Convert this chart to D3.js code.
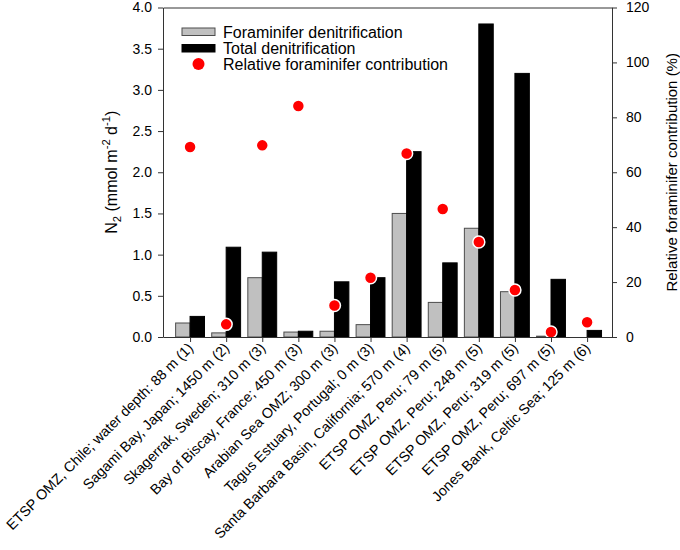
<!DOCTYPE html>
<html>
<head>
<meta charset="utf-8">
<script src="https://cdn.jsdelivr.net/npm/d3@7"></script>
<style>
  html, body { margin: 0; padding: 0; background: #fff; }
  svg { display: block; font-family: "Liberation Sans", Arial, sans-serif; }
</style>
</head>
<body>
<svg id="chart" width="680" height="550"></svg>
<script>
const categories = [
  "ETSP OMZ, Chile; water depth: 88 m (1)",
  "Sagami Bay, Japan; 1450 m (2)",
  "Skagerrak, Sweden; 310 m (3)",
  "Bay of Biscay, France; 450 m (3)",
  "Arabian Sea OMZ; 300 m (3)",
  "Tagus Estuary, Portugal; 0 m (3)",
  "Santa Barbara Basin, California; 570 m (4)",
  "ETSP OMZ, Peru; 79 m (5)",
  "ETSP OMZ, Peru; 248 m (5)",
  "ETSP OMZ, Peru; 319 m (5)",
  "ETSP OMZ, Peru; 697 m (5)",
  "Jones Bank, Celtic Sea; 125 m (6)"
];
const foraminiferDenitrification = [0.17, 0.05, 0.72, 0.06, 0.07, 0.15, 1.50, 0.42, 1.32, 0.55, 0.01, 0];
const totalDenitrification = [0.25, 1.09, 1.03, 0.07, 0.67, 0.72, 2.25, 0.90, 3.80, 3.20, 0.70, 0.08];
const relativeContribution = [69.2, 4.6, 69.8, 84.1, 11.5, 21.6, 66.8, 46.6, 34.6, 17.1, 1.8, 5.4];
const leftTicks = [0, 0.5, 1.0, 1.5, 2.0, 2.5, 3.0, 3.5, 4.0];
const rightTicks = [0, 20, 40, 60, 80, 100, 120];
const legendLabels = ["Foraminifer denitrification", "Total denitrification", "Relative foraminifer contribution"];

const svg = d3.select("#chart");
const L = 163, R = 612, T = 7.5, B = 337;
const FS_TICK = 14, FS_X = 14.3, FS_LEG = 16, FS_TITLE_L = 16, FS_TITLE_R = 15;

const x = d3.scaleLinear().domain([0.25, 12.69]).range([L, R]);
const yL = d3.scaleLinear().domain([0, 4]).range([B, T]);
const yR = d3.scaleLinear().domain([0, 120]).range([B, T]);
const bw = 0.4;

const data = categories.map((c, i) => ({
  pos: i + 1, name: c,
  foram: foraminiferDenitrification[i],
  total: totalDenitrification[i],
  rel: relativeContribution[i]
}));

// bars
svg.append("g").selectAll("rect").data(data.filter(d => d.foram > 0)).join("rect")
  .attr("x", d => x(d.pos - bw))
  .attr("y", d => yL(d.foram))
  .attr("width", d => x(d.pos) - x(d.pos - bw))
  .attr("height", d => yL(0) - yL(d.foram))
  .attr("fill", "#c0c0c0").attr("stroke", "#4d4d4d").attr("stroke-width", 1);

svg.append("g").selectAll("rect").data(data.filter(d => d.total > 0)).join("rect")
  .attr("x", d => x(d.pos))
  .attr("y", d => yL(d.total))
  .attr("width", d => x(d.pos + bw) - x(d.pos))
  .attr("height", d => yL(0) - yL(d.total))
  .attr("fill", "#000").attr("stroke", "#000").attr("stroke-width", 1);

// points
svg.append("g").selectAll("circle").data(data).join("circle")
  .attr("cx", d => x(d.pos))
  .attr("cy", d => yR(d.rel))
  .attr("r", 6)
  .attr("fill", "#ff0000").attr("stroke", "#fff").attr("stroke-width", 1.5);

// axes
function styleAxis(g) {
  g.selectAll("path, line").attr("stroke", "#333").attr("stroke-width", 1);
  g.selectAll("text").attr("font-size", FS_TICK).attr("fill", "#000")
    .attr("font-family", "'Liberation Sans', Arial, sans-serif");
}
svg.append("g").attr("transform", `translate(${L},0)`)
  .call(d3.axisLeft(yL).tickValues(leftTicks).tickFormat(d3.format(".1f")).tickSize(5).tickPadding(6).tickSizeOuter(0))
  .call(styleAxis);
svg.append("g").attr("transform", `translate(${R},0)`)
  .call(d3.axisRight(yR).tickValues(rightTicks).tickFormat(d3.format("d")).tickSize(5).tickPadding(9).tickSizeOuter(0))
  .call(styleAxis);
svg.append("g").attr("transform", `translate(0,${B})`)
  .call(d3.axisBottom(x).tickValues(data.map(d => d.pos)).tickFormat("").tickSize(5).tickSizeOuter(0))
  .call(styleAxis);
svg.append("g").attr("transform", `translate(0,${T})`)
  .call(d3.axisTop(x).tickValues([]).tickSizeOuter(0))
  .call(styleAxis);

// x labels
svg.append("g").selectAll("text").data(data).join("text")
  .attr("transform", d => `translate(${x(d.pos) + 4},${B + 12}) rotate(-45)`)
  .attr("text-anchor", "end")
  .attr("font-size", FS_X)
  .text(d => d.name);

// left title
const lt = svg.append("text")
  .attr("transform", `translate(117,${(T + B) / 2}) rotate(-90)`)
  .attr("text-anchor", "middle")
  .attr("font-size", FS_TITLE_L);
lt.append("tspan").text("N");
lt.append("tspan").attr("font-size", FS_TITLE_L * 0.7).attr("dy", 4).text("2");
lt.append("tspan").attr("dy", -4).text(" (mmol m");
lt.append("tspan").attr("font-size", FS_TITLE_L * 0.7).attr("dy", -7).text("-2");
lt.append("tspan").attr("dy", 7).text(" d");
lt.append("tspan").attr("font-size", FS_TITLE_L * 0.7).attr("dy", -7).text("-1");
lt.append("tspan").attr("dy", 7).text(")");

// right title
svg.append("text")
  .attr("transform", `translate(677,${(T + B) / 2}) rotate(-90)`)
  .attr("text-anchor", "middle")
  .attr("font-size", FS_TITLE_R)
  .text("Relative foraminifer contribution (%)");

// legend
const lg = svg.append("g");
lg.append("rect").attr("x", 182).attr("y", 28).attr("width", 33).attr("height", 7.5)
  .attr("fill", "#c0c0c0").attr("stroke", "#4d4d4d");
lg.append("rect").attr("x", 182).attr("y", 44.5).attr("width", 33).attr("height", 7.5)
  .attr("fill", "#000").attr("stroke", "#000");
lg.append("circle").attr("cx", 198.5).attr("cy", 64).attr("r", 6).attr("fill", "#ff0000");
lg.selectAll("text").data(legendLabels).join("text")
  .attr("x", 223).attr("y", (d, i) => 32 + i * 16).attr("dy", "0.35em")
  .attr("font-size", FS_LEG).text(d => d);
</script>
</body>
</html>
